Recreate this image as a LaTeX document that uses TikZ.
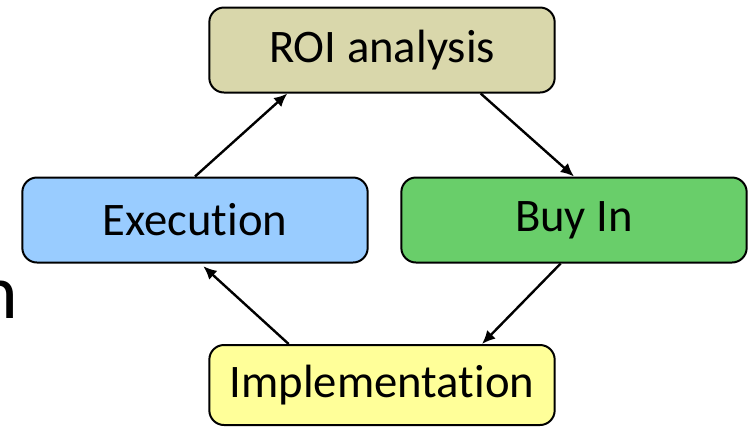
\documentclass[tikz,border=0pt]{standalone}
\usepackage{fontspec}
\setmainfont{Carlito}[Ligatures=NoCommon]
\usetikzlibrary{positioning,arrows.meta}
\definecolor{roitan}{HTML}{D9D7AB}
\definecolor{execblue}{HTML}{99CCFF}
\definecolor{buygreen}{HTML}{69CE6A}
\definecolor{implyellow}{HTML}{FFFF99}
\begin{document}
\begin{tikzpicture}[x=0.75pt,y=-0.75pt,
  stage/.style={draw, line width=1.5pt, rounded corners=11pt, minimum width=259pt,
    minimum height=63.75pt, font=\fontsize{35}{42}\selectfont},
  flow/.style={line width=1.8pt,-{Latex[length=10pt,width=9pt]}}]
\useasboundingbox (0,0) rectangle (749,426);

  \node[stage, fill=roitan] (roi) at (382,50) {ROI analysis};
  \node[stage, fill=execblue] (exec) at (195,220) {Execution};
  \node[stage, fill=buygreen] (buyin) at (574,220) {Buy In};
  \node[stage, fill=implyellow, minimum height=60pt] (impl) at (382,385) {Implementation};
%  cut-off word on the left edge
  \node[inner sep=0pt, anchor=base east, font=\fontsize{58}{70}\selectfont] (cut) at (18,318) {n};

  \draw[flow] (exec.north) -- ([xshift=-71pt]roi.south);
  \draw[flow] ([xshift=74pt]roi.south) -- (buyin.north);
  \draw[flow] ([xshift=-10pt]buyin.south) -- ([xshift=75pt]impl.north);
  \draw[flow, shorten >=3pt] ([xshift=-70pt]impl.north) -- ([xshift=4pt]exec.south);
\end{tikzpicture}
\end{document}
